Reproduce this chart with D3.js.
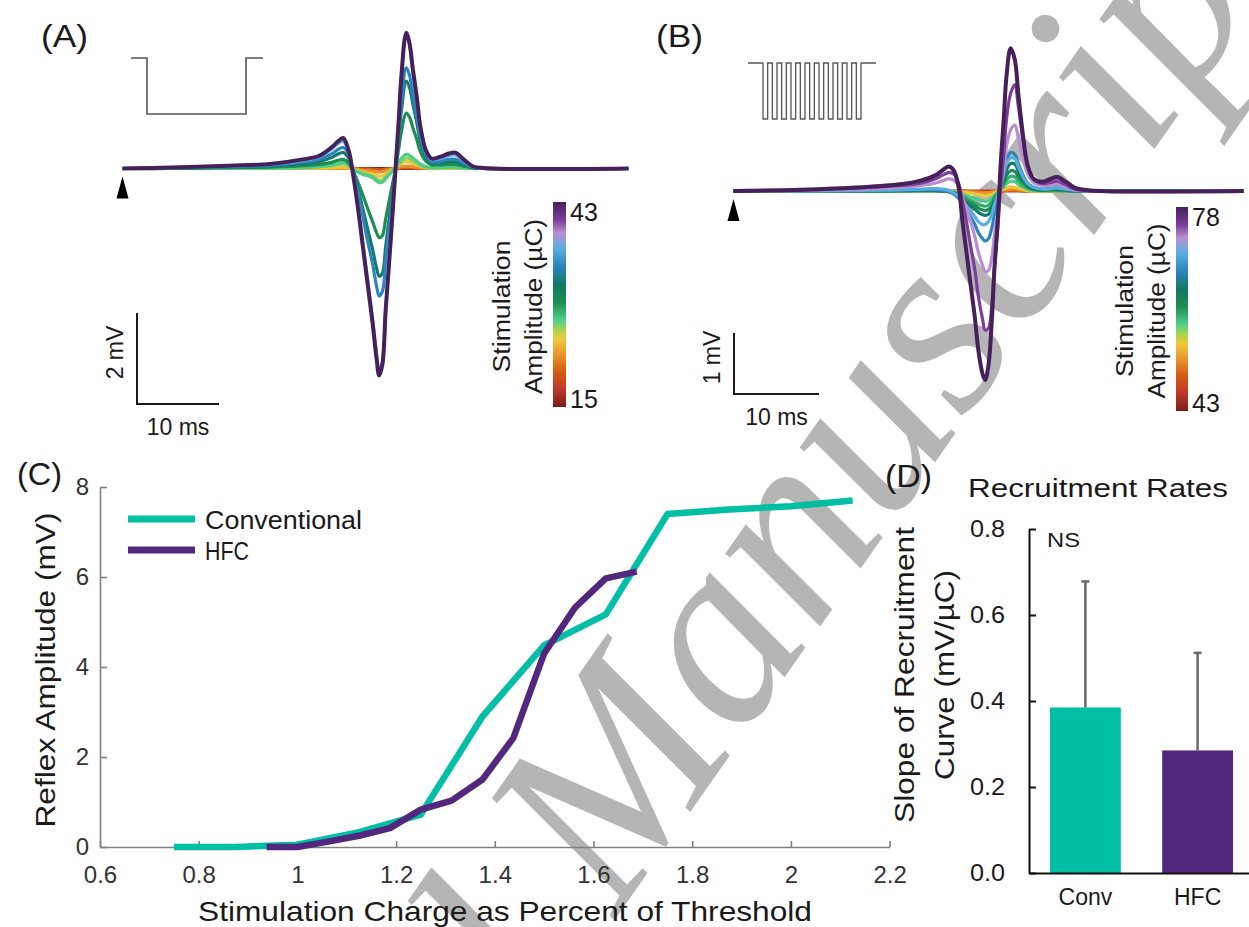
<!DOCTYPE html>
<html>
<head>
<meta charset="utf-8">
<script src="https://cdn.jsdelivr.net/npm/d3@7/dist/d3.min.js"></script>
<style>
html,body{margin:0;padding:0;background:#fff;}
svg{display:block;font-family:"Liberation Sans",Arial,sans-serif;}
</style>
</head>
<body>
<svg id="fig" width="1249" height="927"></svg>
<script>
// ================= DATA =================
// Panel A – conventional stimulation: reflex traces (mV) sampled at timeA (ms)
const timeA = [0,6,13,18,22, 24,25.6,26.3,26.9,27.6, 28.0,28.7,29.3,29.9,30.5, 31.0,31.3,31.7,32.1,32.7,
               33.3,33.7,34.0,34.6,35.0, 35.4,35.9,36.3,37.0,37.7, 38.8,39.8,40.6,41.6,42.7, 44,61.7];
const stimA = [15, 17.5, 20, 22, 24.2, 26, 27, 29.3, 31.8, 34.3, 36.8, 43];   // µC
const traceA15   = [0,0,0,0,0, 0,0,0,0,0, 0,0,0,0,0, 0,0,0,0,0, 0,0,0,0,0, 0,0,0,0,0, 0,0,0,0,0, 0,0];
const traceA17_5 = [0,0,0,0,0, 0,0,0,0,0, 0,0,-0.01,-0.01,-0.01, -0.02,-0.02,-0.02,-0.01,-0.01, 0,0,0.01,0.01,0.01, 0.01,0,0,0,0, 0,0,0,0,0, 0,0];
const traceA20   = [0,0,0,0,0, 0,0,0,0,0, 0,-0.01,-0.02,-0.02,-0.03, -0.03,-0.04,-0.03,-0.02,-0.01, 0,0.01,0.02,0.02,0.02, 0.02,0.01,0.01,0,0, 0,0,0,0,0, 0,0];
const traceA22   = [0,0,0,0,0, 0,0,0,0,0, 0,-0.02,-0.04,-0.05,-0.06, -0.07,-0.08,-0.07,-0.05,-0.02, 0.01,0.03,0.04,0.05,0.05, 0.04,0.03,0.02,0.01,0, 0,0,0,0,0, 0,0];
const traceA24_2 = [0,0,0,0,0.01, 0.01,0.02,0.03,0.03,0.02, 0,-0.05,-0.08,-0.1,-0.12, -0.15,-0.17,-0.16,-0.12,-0.05, 0.02,0.07,0.11,0.15,0.14, 0.11,0.08,0.05,0.02,0.01, 0,0.01,0.01,0,0, 0,0];
const traceA26   = [0,0,0,0.01,0.02, 0.03,0.06,0.08,0.1,0.06, 0,-0.06,-0.1,-0.13,-0.17, -0.23,-0.26,-0.25,-0.18,-0.08, 0.02,0.1,0.16,0.23,0.21, 0.17,0.12,0.07,0.03,0.01, 0.01,0.02,0.02,0.01,0, 0,0];
const traceA27   = [0,0,0.01,0.01,0.02, 0.04,0.08,0.11,0.13,0.08, 0,-0.08,-0.13,-0.16,-0.2, -0.28,-0.31,-0.3,-0.22,-0.1, 0.03,0.14,0.22,0.31,0.29, 0.23,0.16,0.1,0.04,0.02, 0.02,0.03,0.03,0.01,0, 0,0];
const traceA29_3 = [0,0,0.02,0.03,0.06, 0.09,0.14,0.18,0.2,0.12, 0,-0.3,-0.58,-0.88,-1.17, -1.42,-1.52,-1.47,-1.1,-0.55, 0,0.45,0.8,1.22,1.13, 0.9,0.63,0.38,0.16,0.08, 0.08,0.09,0.09,0.05,0.01, 0,0];
const traceA31_8 = [0,0.01,0.03,0.05,0.1, 0.15,0.25,0.32,0.35,0.22, 0.02,-0.42,-0.88,-1.33,-1.78, -2.2,-2.37,-2.3,-1.7,-0.85, 0,0.7,1.25,1.92,1.78, 1.43,1,0.6,0.25,0.12, 0.13,0.15,0.15,0.09,0.02, 0,0];
const traceA34_3 = [0,0.01,0.04,0.07,0.14, 0.2,0.33,0.42,0.46,0.3, 0.02,-0.5,-1.05,-1.6,-2.1, -2.6,-2.8,-2.7,-2,-1, 0,0.8,1.45,2.21,2.05, 1.65,1.15,0.7,0.3,0.15, 0.16,0.2,0.2,0.12,0.03, 0,0];
const traceA36_8 = [0,0.02,0.05,0.09,0.18, 0.26,0.44,0.55,0.6,0.36, 0,-0.8,-1.62,-2.45,-3.3, -4.1,-4.45,-4.25,-3.05,-1.58, 0,1.1,2,3,2.72, 2.12,1.48,0.9,0.37,0.2, 0.22,0.28,0.3,0.17,0.04, 0.01,0];
const traceA43   = [0,0.02,0.06,0.1,0.2, 0.28,0.48,0.6,0.67,0.38, 0,-0.85,-1.7,-2.55,-3.4, -4.2,-4.55,-4.3,-3.1,-1.6, 0,1.1,2,2.98,2.75, 2.2,1.55,0.95,0.4,0.22, 0.26,0.33,0.35,0.2,0.05, 0.01,0];
const tracesA = [traceA15,traceA17_5,traceA20,traceA22,traceA24_2,traceA26,traceA27,traceA29_3,traceA31_8,traceA34_3,traceA36_8,traceA43];
const colorRangeA = [15, 43];

// Panel B – high-frequency (HFC) stimulation
const timeB = [0,7.9,14.9,19.6,22.0, 23.8,24.6,25.3,25.9,26.5, 26.9,27.4,27.9,28.4,28.8, 29.3,29.6,30.0,30.4,30.7,
               31.1,31.4,31.8,32.1,32.6, 33.1,33.5,34.0,34.6,35.3, 36.4,37.3,38.1,39.1,40.2, 42.0,60.0];
const stimB = [46, 49, 51.7, 54.6, 58, 59.5, 61, 64, 67, 70, 72.8, 75, 78];   // µC
const traceB46   = [0,0,0,0,0, 0,0,0,0,0, 0,0,0,0,0, 0,0,0,0,0, 0,0,0,0,0, 0,0,0,0,0, 0,0,0,0,0, 0,0];
const traceB49   = [0,0,0,0,0, 0,0,0,0,0, 0,0,-0.01,-0.01,-0.01, -0.02,-0.02,-0.02,-0.01,-0.01, 0,0,0.01,0.01,0.01, 0.01,0.01,0,0,0, 0,0,0,0,0, 0,0];
const traceB51_7 = [0,0,0,0,0, 0,0,0,0,0, -0.01,-0.01,-0.02,-0.02,-0.03, -0.03,-0.03,-0.03,-0.02,-0.01, 0,0.01,0.02,0.02,0.03, 0.03,0.02,0.01,0.01,0, 0,0,0,0,0, 0,0];
const traceB54_6 = [0,0,0,0,0, 0,0,0,0,-0.01, -0.02,-0.03,-0.04,-0.05,-0.06, -0.07,-0.08,-0.07,-0.06,-0.03, -0.01,0.01,0.03,0.05,0.07, 0.06,0.05,0.03,0.01,0, 0,0,0,0,0, 0,0];
const traceB58   = [0,0,0,0,0, 0,0,0,-0.01,-0.03, -0.05,-0.08,-0.1,-0.12,-0.14, -0.16,-0.17,-0.16,-0.12,-0.07, -0.02,0.03,0.07,0.12,0.16, 0.15,0.11,0.07,0.03,0.01, 0,0,0,0,0, 0,0];
const traceB59_5 = [0,0,0,0,0, 0,0,-0.01,-0.02,-0.05, -0.08,-0.12,-0.16,-0.19,-0.22, -0.24,-0.25,-0.23,-0.18,-0.1, -0.03,0.04,0.11,0.18,0.24, 0.23,0.17,0.1,0.05,0.02, 0.01,0.01,0.01,0,0, 0,0];
const traceB61   = [0,0,0,0,0.01, 0.01,0,-0.01,-0.03,-0.07, -0.11,-0.16,-0.2,-0.24,-0.28, -0.31,-0.32,-0.3,-0.24,-0.14, -0.04,0.05,0.15,0.25,0.33, 0.32,0.24,0.15,0.07,0.03, 0.01,0.02,0.02,0.01,0, 0,0];
const traceB64   = [0,0,0,0.01,0.01, 0.01,0,-0.01,-0.04,-0.09, -0.14,-0.2,-0.25,-0.3,-0.35, -0.39,-0.4,-0.38,-0.3,-0.18, -0.06,0.06,0.2,0.34,0.45, 0.44,0.33,0.2,0.09,0.04, 0.02,0.03,0.03,0.02,0, 0,0];
const traceB67   = [0,0,0.01,0.02,0.02, 0.02,0.01,0,-0.05,-0.12, -0.2,-0.3,-0.42,-0.55,-0.68, -0.78,-0.82,-0.78,-0.6,-0.38, -0.15,0.08,0.3,0.5,0.63, 0.6,0.45,0.28,0.13,0.06, 0.03,0.04,0.05,0.03,0.01, 0,0];
const traceB70   = [0,0,0.01,0.02,0.03, 0.04,0.03,0.01,-0.03,-0.08, -0.15,-0.24,-0.33,-0.42,-0.5, -0.55,-0.55,-0.5,-0.38,-0.22, -0.05,0.12,0.3,0.45,0.54, 0.53,0.4,0.25,0.12,0.06, 0.03,0.04,0.05,0.03,0.01, 0,0];
const traceB72_8 = [0,0.01,0.03,0.06,0.09, 0.13,0.17,0.2,0.18,0.08, -0.08,-0.28,-0.5,-0.75,-1, -1.22,-1.32,-1.3,-1.08,-0.72, -0.35,0,0.38,0.72,1, 1.08,0.88,0.56,0.28,0.14, 0.09,0.1,0.11,0.07,0.02, 0,0];
const traceB75   = [0,0.015,0.05,0.09,0.13, 0.2,0.26,0.3,0.28,0.12, -0.15,-0.5,-0.9,-1.3,-1.72, -2.1,-2.28,-2.25,-1.85,-1.25, -0.6,0,0.6,1.15,1.6, 1.74,1.4,0.9,0.42,0.2, 0.12,0.14,0.16,0.1,0.03, 0,0];
const traceB78   = [0,0.02,0.06,0.11,0.17, 0.26,0.34,0.4,0.34,0.05, -0.45,-1,-1.54,-2.08,-2.6, -3,-3.1,-2.85,-2.1,-1.27, -0.45,0.37,1.19,1.85,2.34, 2.15,1.6,0.98,0.42,0.2, 0.15,0.2,0.23,0.15,0.05, 0.01,0];
const tracesB = [traceB46,traceB49,traceB51_7,traceB54_6,traceB58,traceB59_5,traceB61,traceB64,traceB67,traceB70,traceB72_8,traceB75,traceB78];
const colorRangeB = [43, 78];

// Colormap (position 0 = lowest amplitude)
const cmapPos = [0, 0.09, 0.17, 0.25, 0.33, 0.37, 0.425, 0.51, 0.595, 0.69, 0.775, 0.85, 0.91, 1];
const cmapCol = ["#7b1c1c","#c0392b","#d35a10","#e8912e","#f0c93a","#b5d24a","#4fd08a","#1e8e50","#127a62","#2c85c0","#5baee0","#ba90d0","#7e3f9e","#45205a"];

// Panel C – recruitment curves
const chargeConv = [0.75, 0.875, 1.0, 1.125, 1.25, 1.375, 1.5, 1.625, 1.75, 1.875, 2.0, 2.125];
const ampConv    = [0, 0, 0.05, 0.33, 0.72, 2.9, 4.48, 5.17, 7.4, 7.5, 7.57, 7.7];
const chargeHFC  = [0.9375, 1.0, 1.0625, 1.125, 1.1875, 1.25, 1.3125, 1.375, 1.4375, 1.5, 1.5625, 1.625, 1.6875];
const ampHFC     = [0, 0, 0.12, 0.25, 0.42, 0.83, 1.03, 1.5, 2.42, 4.3, 5.32, 5.97, 6.12];
const xTicksC = [0.6, 0.8, 1, 1.2, 1.4, 1.6, 1.8, 2, 2.2];
const yTicksC = [0, 2, 4, 6, 8];
const seriesNamesC = ["Conventional", "HFC"];

// Panel D – recruitment rates
const groupsD = ["Conv", "HFC"];
const slopeMean = [0.385, 0.285];
const slopeSD   = [0.293, 0.227];
const yTicksD = [0, 0.2, 0.4, 0.6, 0.8];

// ================= DRAWING =================
const TEAL = "#00bfa5", PURPLE = "#52287f";
const svg = d3.select("#fig");
const defs = svg.append("defs");
const cmap = d3.scaleLinear().domain(cmapPos).range(cmapCol).interpolate(d3.interpolateRgb).clamp(true);

function addText(parent, x, y, s, o = {}) {
  const t = parent.append("text").text(s)
    .attr("font-size", o.size || 24).attr("fill", o.fill || "#1a1a1a")
    .attr("text-anchor", o.anchor || "start").attr("dominant-baseline", o.base || "central");
  if (o.rotate !== undefined) t.attr("x", 0).attr("y", 0).attr("transform", `translate(${x},${y}) rotate(${o.rotate})`);
  else t.attr("x", x).attr("y", y);
  if (o.len) t.attr("textLength", o.len).attr("lengthAdjust", "spacingAndGlyphs");
  return t;
}

// Watermark (behind the chart)
{
  const g = svg.append("g").attr("transform", "translate(616,918) rotate(-55)")
    .attr("fill", "#b5b5b5")
    .attr("font-family", "Liberation Serif, Times New Roman, serif").attr("font-style", "italic").attr("font-size", 260);
  g.append("text").attr("x", 0).attr("y", 0).text("Manuscript");
  g.append("text").attr("x", -65).attr("y", 0).attr("text-anchor", "end").text("Accepted");
}

// colorbar gradient
const grad = defs.append("linearGradient").attr("id", "cbar").attr("x1", 0).attr("x2", 0).attr("y1", 1).attr("y2", 0);
cmapPos.forEach((p, i) => grad.append("stop").attr("offset", p).attr("stop-color", cmapCol[i]));

function tracePanel(cfg) {
  const g = svg.append("g");
  const tEnd = cfg.time[cfg.time.length - 1];
  const x = d3.scaleLinear().domain([0, tEnd]).range([cfg.x0, cfg.x0 + tEnd * cfg.pxPerMs]);
  const y = d3.scaleLinear().domain([0, 1]).range([cfg.y0, cfg.y0 - cfg.pxPerMv]);
  const line = d3.line().x((d, i) => x(cfg.time[i])).y(d => y(d)).curve(d3.curveCatmullRom.alpha(0.5));
  const n = cfg.traces.length;
  cfg.traces.forEach((tr, k) => {
    g.append("path").attr("d", line(tr)).attr("fill", "none")
      .attr("stroke", cmap((cfg.stim[k] - cfg.crange[0]) / (cfg.crange[1] - cfg.crange[0])))
      .attr("stroke-width", k === n - 1 ? 4 : 3.2)
      .attr("stroke-linejoin", "round");
  });
  // stimulus marker
  const ax = x(0);
  g.append("path").attr("d", `M${ax},${cfg.y0 + 8}L${ax + 6},${cfg.y0 + 30}L${ax - 6},${cfg.y0 + 30}Z`).attr("fill", "#000");
  // scale bar
  const bw = x(10) - x(0), bh = y(0) - y(cfg.barMv);
  g.append("path").attr("d", `M${cfg.barX},${cfg.barY - bh}V${cfg.barY}H${cfg.barX + bw}`)
    .attr("fill", "none").attr("stroke", "#1a1a1a").attr("stroke-width", 2);
  addText(g, cfg.barX + bw / 2, cfg.barY + 23, "10 ms", { anchor: "middle", size: 23 });
  addText(g, cfg.barX - 22, cfg.barY - bh / 2 - 6, cfg.barMv + " mV", { anchor: "middle", size: 23, rotate: -90 });
  // colorbar
  const cb = cfg.cbar;
  g.append("rect").attr("x", cb.x).attr("y", cb.y).attr("width", cb.w).attr("height", cb.h).attr("fill", "url(#cbar)");
  addText(g, cb.x + cb.w + 4, cb.y + 10, String(cfg.crange[1]), { size: 25 });
  addText(g, cb.x + cb.w + 4, cb.y + cb.h - 8, String(cfg.crange[0]), { size: 25 });
  addText(g, cb.x - 51, cb.y + cb.h / 2 + 2, "Stimulation", { anchor: "middle", size: 23, rotate: -90, len: 132 });
  addText(g, cb.x - 19, cb.y + cb.h / 2 + 2, "Amplitude (µC)", { anchor: "middle", size: 23, rotate: -90, len: 175 });
  // panel label
  addText(g, cfg.labelX, 36, cfg.label, { size: 32, len: 47 });
  return g;
}

// Panel A
const gA = tracePanel({
  time: timeA, traces: tracesA, stim: stimA, crange: colorRangeA,
  x0: 122.5, y0: 168.5, pxPerMs: 8.2, pxPerMv: 45.5,
  barX: 137, barY: 404, barMv: 2,
  cbar: { x: 553, y: 202, w: 13, h: 205 }, label: "(A)", labelX: 41
});
gA.append("path").attr("d", "M131,58H147V114H246V58H263").attr("fill", "none").attr("stroke", "#555").attr("stroke-width", 1.6);

// Panel B
const gB = tracePanel({
  time: timeB, traces: tracesB, stim: stimB, crange: colorRangeB,
  x0: 733.5, y0: 191, pxPerMs: 8.5, pxPerMv: 61,
  barX: 734, barY: 394, barMv: 1,
  cbar: { x: 1176, y: 207, w: 12, h: 204 }, label: "(B)", labelX: 656
});
{
  let p = "M748,63H763", xx = 763; const h = 98 / 21;
  for (let i = 0; i < 11; i++) {
    p += `V119H${xx + h}V63`;
    xx += h;
    if (i < 10) { p += `H${xx + h}`; xx += h; }
  }
  p += "H876";
  gB.append("path").attr("d", p).attr("fill", "none").attr("stroke", "#555").attr("stroke-width", 1.3);
}

// Panel C
{
  const g = svg.append("g");
  const x = d3.scaleLinear().domain([0.6, 2.2]).range([100, 889.6]);
  const y = d3.scaleLinear().domain([0, 8]).range([847, 487]);
  const xa = g.append("g").attr("transform", "translate(0,847)")
    .call(d3.axisBottom(x).tickValues(xTicksC).tickSizeInner(-6).tickSizeOuter(0).tickPadding(19).tickFormat(d => String(+d.toFixed(1))));
  const ya = g.append("g").attr("transform", "translate(100,0)")
    .call(d3.axisLeft(y).tickValues(yTicksC).tickSizeInner(-7).tickSizeOuter(0).tickPadding(11));
  [xa, ya].forEach(a => {
    a.selectAll("path,line").attr("stroke", "#808080").attr("stroke-width", 1.6);
    a.selectAll("text").attr("font-size", 24).attr("fill", "#333").attr("font-family", "Liberation Sans, Arial, sans-serif");
  });
  const line = d3.line().x(d => x(d[0])).y(d => y(d[1]));
  g.append("path").attr("d", line(chargeConv.map((c, i) => [c, ampConv[i]])))
    .attr("fill", "none").attr("stroke", TEAL).attr("stroke-width", 6.5).attr("stroke-linejoin", "round");
  g.append("path").attr("d", line(chargeHFC.map((c, i) => [c, ampHFC[i]])))
    .attr("fill", "none").attr("stroke", PURPLE).attr("stroke-width", 6.5).attr("stroke-linejoin", "round");
  // legend
  [TEAL, PURPLE].forEach((c, i) => {
    g.append("line").attr("x1", 128).attr("x2", 195).attr("y1", 519 + i * 31).attr("y2", 519 + i * 31)
      .attr("stroke", c).attr("stroke-width", 7);
    addText(g, 205, 520 + i * 31, seriesNamesC[i], { size: 25, len: i === 0 ? 157 : 44 });
  });
  addText(g, 505, 911, "Stimulation Charge as Percent of Threshold", { anchor: "middle", size: 28, len: 614 });
  addText(g, 45, 670, "Reflex Amplitude (mV)", { anchor: "middle", size: 28, rotate: -90, len: 315 });
  addText(g, 17, 474, "(C)", { size: 32, len: 45 });
}

// Panel D
{
  const g = svg.append("g");
  const x = d3.scaleBand().domain(groupsD).range([1029, 1254]).paddingInner(0.369).paddingOuter(0.187);
  const y = d3.scaleLinear().domain([0, 0.8]).range([873, 529]);
  g.selectAll("rect.bar").data(groupsD).join("rect").attr("class", "bar")
    .attr("x", d => x(d)).attr("width", x.bandwidth())
    .attr("y", (d, i) => y(slopeMean[i])).attr("height", (d, i) => y(0) - y(slopeMean[i]))
    .attr("fill", (d, i) => i === 0 ? TEAL : PURPLE);
  groupsD.forEach((d, i) => {
    const cx = x(d) + x.bandwidth() / 2;
    const top = y(slopeMean[i] + slopeSD[i]);
    g.append("line").attr("x1", cx).attr("x2", cx).attr("y1", y(slopeMean[i])).attr("y2", top)
      .attr("stroke", "#6a6a6a").attr("stroke-width", 2.5);
    g.append("line").attr("x1", cx - 4).attr("x2", cx + 4).attr("y1", top).attr("y2", top)
      .attr("stroke", "#6a6a6a").attr("stroke-width", 2.5);
  });
  const ya = g.append("g").attr("transform", "translate(1029,0)")
    .call(d3.axisLeft(y).tickValues(yTicksD).tickSizeInner(-7).tickSizeOuter(0).tickPadding(24).tickFormat(d3.format(".1f")));
  const xa = g.append("g").attr("transform", "translate(0,873)")
    .call(d3.axisBottom(x).tickSize(0).tickPadding(16));
  [xa, ya].forEach(a => {
    a.selectAll("path,line").attr("stroke", "#111").attr("stroke-width", 2);
    a.selectAll("text").attr("font-size", 23).attr("fill", "#1a1a1a").attr("font-family", "Liberation Sans, Arial, sans-serif");
  });
  ya.selectAll("text").attr("textLength", 35).attr("lengthAdjust", "spacingAndGlyphs");
  addText(g, 1047, 539, "NS", { size: 21, len: 33 });
  addText(g, 1098, 488, "Recruitment Rates", { anchor: "middle", size: 26, len: 260 });
  addText(g, 905, 675, "Slope of Recruitment", { anchor: "middle", size: 27, rotate: -90, len: 296 });
  addText(g, 945, 675, "Curve (mV/µC)", { anchor: "middle", size: 27, rotate: -90, len: 210 });
  addText(g, 885, 476, "(D)", { size: 32, len: 47 });
}
</script>
</body>
</html>
